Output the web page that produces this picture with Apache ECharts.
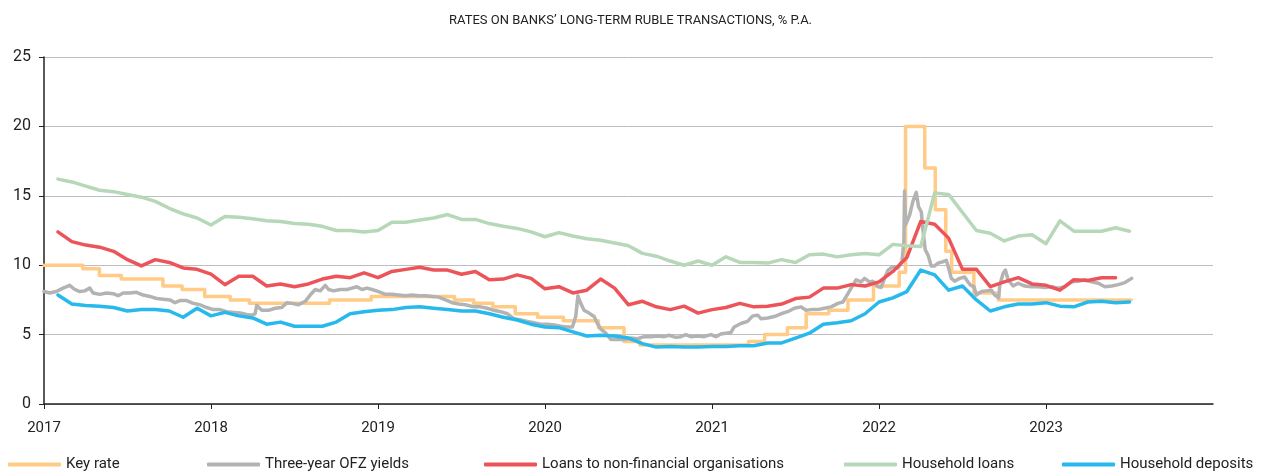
<!DOCTYPE html>
<html>
<head>
<meta charset="utf-8">
<script src="https://cdn.jsdelivr.net/npm/echarts@6/dist/echarts.min.js"></script>
<style>
  html, body { margin: 0; padding: 0; background: #fff; }
  #chart { width: 1261px; height: 476px; }
</style>
</head>
<body>
<div id="chart"></div>
<script>
// years shown on the axis
var yearTicks = [2017, 2018, 2019, 2020, 2021, 2022, 2023]

// monthly series, first value = Feb 2017
var householdLoans = [
  16.2, 16.0, 15.7, 15.4, 15.3, 15.1, 14.9, 14.6, 14.1, 13.7, 13.4,
  12.9, 13.5, 13.45, 13.35, 13.2, 13.15, 13.0, 12.95, 12.8, 12.5, 12.5, 12.4,
  12.5, 13.1, 13.1, 13.25, 13.4, 13.65, 13.3, 13.3, 13.0, 12.8, 12.65, 12.4,
  12.05, 12.35, 12.1, 11.9, 11.8, 11.6, 11.4, 10.85, 10.65, 10.3, 10.0, 10.3,
  10.0, 10.6, 10.2, 10.2, 10.15, 10.4, 10.2, 10.75, 10.8, 10.6, 10.75, 10.85,
  10.75, 11.5, 11.4, 11.35, 15.2, 15.1, 13.8, 12.5, 12.3, 11.75, 12.1, 12.2,
  11.55, 13.2, 12.45, 12.45, 12.45, 12.7, 12.45
]
var corpLoans = [
  12.4, 11.7, 11.45, 11.3, 11.0, 10.4, 9.95, 10.4, 10.2, 9.8, 9.7,
  9.35, 8.6, 9.2, 9.2, 8.5, 8.65, 8.45, 8.65, 9.0, 9.2, 9.1, 9.45,
  9.1, 9.55, 9.7, 9.85, 9.65, 9.65, 9.35, 9.55, 8.95, 9.0, 9.3, 9.05,
  8.3, 8.45, 8.0, 8.2, 9.0, 8.35, 7.15, 7.4, 7.0, 6.8, 7.05, 6.55,
  6.8, 6.95, 7.25, 7.0, 7.05, 7.2, 7.6, 7.7, 8.35, 8.35, 8.6, 8.5,
  8.8, 9.55, 10.55, 13.15, 12.95, 11.95, 9.7, 9.7, 8.45, 8.8, 9.1, 8.65,
  8.55, 8.2, 8.95, 8.9, 9.1, 9.1
]
var householdDeposits = [
  7.85, 7.2, 7.1, 7.05, 6.95, 6.7, 6.8, 6.8, 6.7, 6.25, 6.9,
  6.35, 6.6, 6.35, 6.2, 5.75, 5.9, 5.6, 5.6, 5.6, 5.9, 6.5, 6.65,
  6.75, 6.8, 6.95, 7.0, 6.9, 6.8, 6.7, 6.7, 6.5, 6.25, 6.05, 5.75,
  5.55, 5.5, 5.2, 4.9, 4.95, 4.9, 4.75, 4.35, 4.1, 4.15, 4.1, 4.1,
  4.15, 4.15, 4.2, 4.2, 4.4, 4.4, 4.75, 5.1, 5.75, 5.85, 6.0, 6.5,
  7.35, 7.65, 8.1, 9.65, 9.3, 8.2, 8.5, 7.5, 6.7, 7.0, 7.2, 7.2,
  7.3, 7.05, 7.0, 7.35, 7.4, 7.3, 7.35
]

// key rate: date of change (decimal year) and new level
var keyRateT = [2017.0, 2017.233, 2017.332, 2017.463, 2017.712, 2017.827, 2017.962,
  2018.115, 2018.230, 2018.710, 2018.959, 2019.458, 2019.573, 2019.688, 2019.822, 2019.956,
  2020.110, 2020.320, 2020.473, 2020.568, 2021.219, 2021.315, 2021.452, 2021.564, 2021.699,
  2021.814, 2021.967, 2022.121, 2022.159, 2022.274, 2022.337, 2022.400, 2022.435, 2022.568,
  2022.715, 2023.51]
var keyRateV = [10.0, 9.75, 9.25, 9.0, 8.5, 8.25, 7.75,
  7.5, 7.25, 7.5, 7.75, 7.5, 7.25, 7.0, 6.5, 6.25,
  6.0, 5.5, 4.5, 4.25, 4.5, 5.0, 5.5, 6.5, 6.75,
  7.5, 8.5, 9.5, 20.0, 17.0, 14.0, 11.0, 9.5, 8.0,
  7.5, 7.5]

// three-year OFZ yields, read roughly weekly
var ofzT = [2017.0, 2017.034, 2017.074, 2017.114, 2017.154, 2017.184, 2017.214, 2017.244, 2017.274, 2017.294,
  2017.334, 2017.374, 2017.414, 2017.444, 2017.474, 2017.514, 2017.554, 2017.594, 2017.634, 2017.674,
  2017.714, 2017.754, 2017.784, 2017.814, 2017.854, 2017.894, 2017.934, 2017.974, 2018.014, 2018.054,
  2018.094, 2018.134, 2018.174, 2018.214, 2018.244, 2018.264, 2018.274, 2018.304, 2018.344, 2018.384,
  2018.424, 2018.454, 2018.484, 2018.524, 2018.564, 2018.594, 2018.624, 2018.654, 2018.684, 2018.704,
  2018.734, 2018.774, 2018.814, 2018.844, 2018.874, 2018.904, 2018.934, 2018.964, 2019.004, 2019.044,
  2019.084, 2019.124, 2019.164, 2019.204, 2019.244, 2019.284, 2019.324, 2019.364, 2019.404, 2019.444,
  2019.484, 2019.524, 2019.574, 2019.614, 2019.654, 2019.694, 2019.734, 2019.774, 2019.814, 2019.854,
  2019.894, 2019.934, 2019.974, 2020.014, 2020.054, 2020.094, 2020.134, 2020.164, 2020.184, 2020.197,
  2020.214, 2020.234, 2020.264, 2020.294, 2020.314, 2020.334, 2020.364, 2020.394, 2020.434, 2020.474,
  2020.514, 2020.554, 2020.594, 2020.634, 2020.674, 2020.714, 2020.743, 2020.783, 2020.813, 2020.843,
  2020.873, 2020.914, 2020.953, 2020.993, 2021.023, 2021.053, 2021.083, 2021.113, 2021.133, 2021.173,
  2021.213, 2021.244, 2021.274, 2021.293, 2021.333, 2021.373, 2021.413, 2021.453, 2021.493, 2021.533,
  2021.563, 2021.593, 2021.633, 2021.673, 2021.713, 2021.754, 2021.784, 2021.814, 2021.833, 2021.863,
  2021.893, 2021.913, 2021.943, 2021.963, 2021.994, 2022.013, 2022.033, 2022.054, 2022.083, 2022.113,
  2022.137, 2022.149, 2022.153, 2022.159, 2022.183, 2022.203, 2022.223, 2022.237, 2022.253, 2022.263,
  2022.277, 2022.293, 2022.313, 2022.333, 2022.353, 2022.383, 2022.403, 2022.417, 2022.433, 2022.453,
  2022.483, 2022.513, 2022.529, 2022.549, 2022.569, 2022.583, 2022.613, 2022.643, 2022.673, 2022.693,
  2022.717, 2022.723, 2022.743, 2022.757, 2022.773, 2022.803, 2022.833, 2022.873, 2022.913, 2022.953,
  2022.993, 2023.033, 2023.073, 2023.113, 2023.153, 2023.193, 2023.233, 2023.273, 2023.313, 2023.353,
  2023.393, 2023.433, 2023.473, 2023.513]
var ofzV = [8.1, 8.0, 8.1, 8.35, 8.55, 8.25, 8.1, 8.15, 8.35, 8.0,
  7.9, 8.0, 7.95, 7.8, 8.0, 8.0, 8.05, 7.85, 7.75, 7.6,
  7.55, 7.5, 7.3, 7.45, 7.45, 7.25, 7.15, 6.95, 6.8, 6.8,
  6.65, 6.6, 6.55, 6.45, 6.4, 6.5, 7.1, 6.75, 6.75, 6.9,
  6.95, 7.3, 7.25, 7.15, 7.4, 7.85, 8.25, 8.15, 8.55, 8.25,
  8.15, 8.25, 8.25, 8.35, 8.45, 8.25, 8.35, 8.25, 8.1, 7.9,
  7.9, 7.85, 7.8, 7.85, 7.8, 7.8, 7.75, 7.7, 7.5, 7.3,
  7.2, 7.15, 7.0, 7.0, 6.9, 6.75, 6.65, 6.5, 6.15, 6.05,
  5.95, 5.85, 5.75, 5.75, 5.7, 5.6, 5.55, 5.55, 6.3, 7.8,
  7.25, 6.75, 6.55, 6.3, 5.8, 5.4, 5.1, 4.65, 4.65, 4.65,
  4.75, 4.7, 4.85, 4.85, 4.9, 4.85, 4.95, 4.8, 4.85, 5.0,
  4.85, 4.9, 4.85, 5.0, 4.85, 5.05, 5.1, 5.15, 5.55, 5.8,
  5.95, 6.35, 6.4, 6.15, 6.2, 6.3, 6.5, 6.65, 6.9, 7.0,
  6.75, 6.8, 6.8, 6.9, 7.0, 7.25, 7.35, 7.95, 8.35, 8.95,
  8.8, 9.05, 8.8, 8.85, 8.45, 8.4, 9.05, 9.65, 9.9, 9.8,
  10.25, 11.7, 15.35, 12.9, 13.6, 14.6, 15.25, 14.2, 13.85, 12.55,
  11.1, 10.75, 9.95, 9.95, 10.15, 10.25, 10.35, 9.8, 9.05, 8.85,
  9.05, 9.15, 8.85, 8.55, 8.45, 7.85, 8.1, 8.15, 8.2, 7.85,
  7.65, 8.55, 9.4, 9.65, 8.95, 8.5, 8.7, 8.5, 8.45, 8.45,
  8.4, 8.45, 8.35, 8.45, 8.8, 8.85, 8.95, 8.8, 8.7, 8.45,
  8.5, 8.6, 8.75, 9.05]

// monthly values -> [decimal year, value], month 1 = Feb 2017
function monthly(arr) {
  return arr.map(function (v, i) { return [2017 + (i + 1) / 12, v] })
}
function pairs(t, v) {
  return t.map(function (x, i) { return [x, v[i]] })
}

var FONT = 'Roboto, "Open Sans", sans-serif'
var colors = ['#FFCB86', '#B3B3B3', '#EC5459', '#B7D7B9', '#27B9EB']
var names = ['Key rate', 'Three-year OFZ yields', 'Loans to non-financial organisations', 'Household loans', 'Household deposits']
var legendLeft = [3, 202, 479, 839, 1057]

var chart = echarts.init(document.getElementById('chart'))

function lineSeries(i, data, extra) {
  var s = {
    name: names[i],
    type: 'line',
    data: data,
    showSymbol: false,
    symbol: 'none',
    color: colors[i],
    lineStyle: {width: 3.5, color: colors[i], cap: 'round', join: 'round'},
    z: 2 + i
  }
  return Object.assign(s, extra || {})
}

var option = {
  animation: false,
  backgroundColor: '#fff',
  textStyle: {fontFamily: FONT},
  title: {
    text: 'RATES ON BANKS\u2019 LONG-TERM RUBLE TRANSACTIONS, % P.A.',
    left: 'center',
    top: 9,
    textStyle: {fontSize: 13, fontWeight: 'normal', color: '#222', fontFamily: FONT}
  },
  // one legend per item so each can sit where it does in the original
  legend: names.map(function (n, i) {
    return {
      data: [n],
      left: legendLeft[i],
      top: 452,
      icon: 'roundRect',
      itemWidth: 53,
      itemHeight: 4,
      textStyle: {fontSize: 15, color: '#222', fontFamily: FONT}
    }
  }),
  grid: {left: 44, right: 48, top: 57, bottom: 72, containLabel: false},
  xAxis: {
    type: 'value',
    min: 2017,
    max: 2024,
    interval: 1,
    axisLine: {show: true, onZero: false, lineStyle: {color: '#222', width: 1.5}},
    axisTick: {show: true, length: 5, customValues: yearTicks, lineStyle: {color: '#222'}},
    axisLabel: {
      customValues: yearTicks,
      margin: 17,
      fontSize: 15,
      color: '#222',
      fontFamily: FONT,
      formatter: function (v) { return String(v) }
    },
    splitLine: {show: false}
  },
  yAxis: {
    type: 'value',
    min: 0,
    max: 25,
    interval: 5,
    axisLine: {show: true, lineStyle: {color: '#222', width: 1.5}},
    axisTick: {show: true, length: 5, lineStyle: {color: '#222'}},
    axisLabel: {margin: 13, fontSize: 16, color: '#222', fontFamily: FONT},
    splitLine: {show: true, lineStyle: {color: '#BEBEBE', width: 1}}
  },
  series: [
    lineSeries(0, pairs(keyRateT, keyRateV), {step: 'end'}),
    lineSeries(1, pairs(ofzT, ofzV)),
    lineSeries(2, monthly(corpLoans)),
    lineSeries(3, monthly(householdLoans)),
    lineSeries(4, monthly(householdDeposits))
  ]
}

chart.setOption(option)
</script>
</body>
</html>
